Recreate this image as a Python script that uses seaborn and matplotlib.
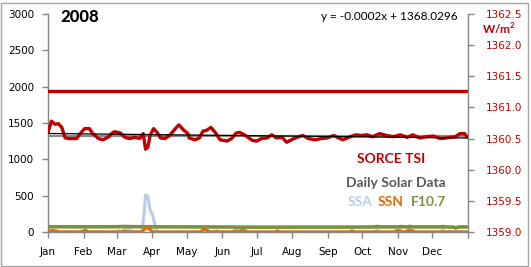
import numpy as np
import pandas as pd
import matplotlib
matplotlib.use("Agg")
import matplotlib.pyplot as plt
import seaborn as sns
from matplotlib.patches import Rectangle

# ---------------- data ----------------
months = ["Jan", "Feb", "Mar", "Apr", "May", "Jun", "Jul", "Aug", "Sep", "Oct", "Nov", "Dec"]
month_start = [0, 31, 60, 91, 121, 152, 182, 213, 244, 274, 305, 335, 366]

tsi_days = [0, 3, 6, 9, 12, 15, 19, 25, 28, 32, 36, 39, 44, 48, 53, 56, 58, 63, 67, 71,
            76, 80, 83, 85, 87, 89, 92, 95, 98, 102, 106, 111, 114, 118, 122, 123, 128,
            132, 135, 138, 142, 146, 150, 156, 160, 164, 167, 172, 178, 182, 186, 191,
            195, 199, 204, 208, 212, 217, 222, 227, 233, 238, 243, 249, 252, 257, 262,
            268, 273, 278, 283, 289, 295, 301, 307, 313, 318, 324, 330, 336, 342, 347,
            355, 359, 363, 365]
tsi_vals = [1360.60, 1360.78, 1360.73, 1360.74, 1360.68, 1360.51, 1360.50, 1360.50,
            1360.58, 1360.66, 1360.66, 1360.58, 1360.50, 1360.48, 1360.53, 1360.59,
            1360.61, 1360.59, 1360.52, 1360.50, 1360.52, 1360.50, 1360.58, 1360.33,
            1360.36, 1360.55, 1360.66, 1360.60, 1360.51, 1360.50, 1360.55, 1360.66,
            1360.72, 1360.64, 1360.58, 1360.51, 1360.48, 1360.51, 1360.62, 1360.63,
            1360.68, 1360.59, 1360.48, 1360.46, 1360.50, 1360.59, 1360.60, 1360.55,
            1360.47, 1360.46, 1360.50, 1360.51, 1360.56, 1360.51, 1360.52, 1360.44,
            1360.48, 1360.52, 1360.55, 1360.50, 1360.48, 1360.50, 1360.51, 1360.55,
            1360.52, 1360.48, 1360.52, 1360.56, 1360.55, 1360.56, 1360.53, 1360.58,
            1360.55, 1360.53, 1360.56, 1360.52, 1360.56, 1360.51, 1360.53, 1360.54,
            1360.50, 1360.51, 1360.53, 1360.58, 1360.58, 1360.53]
tsi_reference = 1361.26
trend_slope = -0.0002          # W/m^2 per day, from the chart's trend equation

ssa_days = [0, 60, 62, 64, 66, 68, 70, 72, 74, 82, 84, 85, 87, 89, 91, 93, 95, 285, 287,
            289, 305, 307, 309, 313, 315, 317, 342, 344, 346, 365]
ssa_vals = [0, 0, 20, 0, 40, 10, 50, 30, 0, 0, 300, 510, 490, 300, 240, 110, 0, 0, 40,
            0, 0, 40, 0, 0, 50, 0, 0, 40, 0, 0]

ssn_days = [0, 2, 4, 6, 8, 10, 29, 31, 33, 35, 65, 67, 69, 82, 84, 86, 88, 90, 92, 133,
            135, 137, 139, 141, 145, 147, 149, 160, 163, 166, 169, 172, 174, 198, 200,
            202, 263, 265, 267, 302, 304, 306, 308, 312, 314, 316, 318, 320, 365]
ssn_vals = [0, 15, 20, 15, 10, 0, 0, 15, 20, 0, 0, 10, 0, 0, 40, 60, 45, 20, 0, 0,
            30, 37, 20, 0, 0, 10, 0, 0, 15, 10, 20, 15, 0, 0, 15, 0, 0, 15, 0, 0, 20,
            15, 0, 0, 25, 20, 15, 0, 0]

f107_days = [0, 30, 60, 66, 70, 90, 120, 150, 180, 210, 240, 270, 284, 287, 290, 305,
             307, 313, 315, 318, 342, 344, 347, 353, 355, 358, 365]
f107_vals = [72, 71, 72, 76, 74, 71, 70, 69, 66, 67, 68, 68, 69, 76, 70, 70, 74, 70,
             76, 70, 70, 75, 69, 68, 56, 69, 70]

# ---------------- colours ----------------
RED = "#c00000"
SSA_C = "#b9cde5"
SSN_C = "#e46c0a"
F107_C = "#77933c"
GRAY_T = "#595959"
SPINE = "#868686"

sns.set_style("white")
plt.rcParams["font.family"] = ["DejaVu Sans"]

W, H = 531, 267
fig = plt.figure(figsize=(W / 100, H / 100), dpi=100)
fig.patch.set_facecolor("white")
fig.add_artist(Rectangle((0.5 / W, 1.5 / H), 527.5 / W, 263 / H, transform=fig.transFigure,
                         fill=False, edgecolor="#a6a6a6", linewidth=1.0))

ax = fig.add_axes([48 / W, 1 - 232 / H, 420 / W, 218 / H])
ax2 = ax.twinx()

# left-axis series
sns.lineplot(x=ssa_days, y=ssa_vals, ax=ax, color=SSA_C, linewidth=2.2, zorder=2)
sns.lineplot(x=f107_days, y=f107_vals, ax=ax, color=F107_C, linewidth=2.6, zorder=3)
sns.lineplot(x=ssn_days, y=ssn_vals, ax=ax, color=SSN_C, linewidth=2.4, zorder=4)

# right-axis series
tsi_days_a = np.array(tsi_days, dtype=float)
tsi_vals_a = np.array(tsi_vals)
mean_tsi = tsi_vals_a.mean()
trend_icpt = mean_tsi - trend_slope * tsi_days_a.mean()
ax2.axhline(tsi_reference, color=RED, linewidth=2.4, zorder=2)
ax2.axhline(mean_tsi, color="#8c8c8c", linewidth=1.6, zorder=2)
sns.lineplot(x=tsi_days, y=tsi_vals, ax=ax2, color=RED, linewidth=2.4, zorder=3)
ax2.plot([0, 366], [trend_icpt, trend_icpt + trend_slope * 366], color="black",
         linewidth=0.9, zorder=4)

# axes
ax.set_xlim(0, 366)
ax.set_ylim(0, 3000)
ax2.set_ylim(1359.0, 1362.5)
ax.set_yticks(np.arange(0, 3001, 500))
ax2.set_yticks(np.arange(1359.0, 1362.51, 0.5))
ax2.set_yticklabels([f"{v:.1f}" for v in np.arange(1359.0, 1362.51, 0.5)])
ax.set_xticks(month_start)
ax.set_xticklabels(months + [""])
ax.set_xlabel("")
ax.set_ylabel("")
ax2.set_ylabel("")

for a in (ax, ax2):
    a.set_facecolor("none")
    a.grid(False)
    a.spines["top"].set_visible(False)
    for s in ("left", "right", "bottom"):
        a.spines[s].set_color(SPINE)
        a.spines[s].set_linewidth(1.0)
ax.spines["right"].set_visible(False)
ax2.spines["left"].set_visible(False)
ax2.spines["bottom"].set_visible(False)

ax.tick_params(axis="y", which="both", left=True, length=4, width=1, color=SPINE,
               labelsize=7.5, labelcolor="black", pad=6)
ax.tick_params(axis="x", which="both", bottom=True, length=4, width=1, color=SPINE,
               labelsize=7.5, labelcolor="black", pad=7)
ax2.tick_params(axis="y", which="both", right=True, length=4, width=1, color=SPINE,
                labelsize=7.5, labelcolor=RED, pad=9)
ax2.set_zorder(ax.get_zorder() + 1)

def ftxt(x, y, s, **kw):
    fig.text(x / W, 1 - y / H, s, **kw)

ftxt(60, 17, "2008", fontsize=12, fontweight="black", family=["Lato", "DejaVu Sans"],
     ha="left", va="center", color="black")
ftxt(458, 17, "y = -0.0002x + 1368.0296", fontsize=8.5, family=["Lato", "DejaVu Sans"],
     ha="right", va="center", color="black")
ftxt(499, 29, "W/m$^\\mathregular{2}$", fontsize=8.5, fontweight="bold",
     family=["Lato", "DejaVu Sans"], ha="center", va="center", color=RED)
ftxt(391, 159, "SORCE TSI", fontsize=10, fontweight="bold", family=["Lato", "DejaVu Sans"],
     ha="center", va="center", color=RED)
ftxt(396, 183, "Daily Solar Data", fontsize=10, fontweight="bold",
     family=["Lato", "DejaVu Sans"], ha="center", va="center", color=GRAY_T)
ftxt(360, 202, "SSA", fontsize=10, fontweight="bold", family=["Lato", "DejaVu Sans"],
     ha="center", va="center", color=SSA_C)
ftxt(391, 202, "SSN", fontsize=10, fontweight="bold", family=["Lato", "DejaVu Sans"],
     ha="center", va="center", color=SSN_C)
ftxt(428, 202, "F10.7", fontsize=10, fontweight="bold", family=["Lato", "DejaVu Sans"],
     ha="center", va="center", color=F107_C)

fig.savefig("out.png", dpi=100, facecolor="white")
